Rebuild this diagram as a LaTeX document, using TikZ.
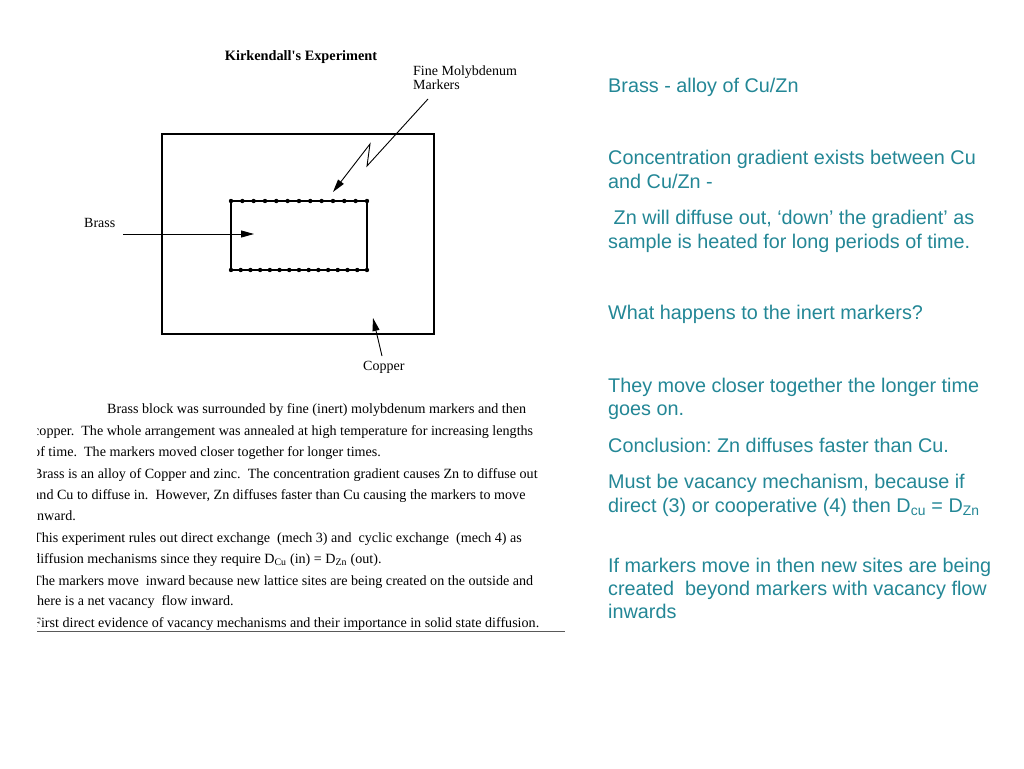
\documentclass[tikz,border=0pt]{standalone}
\usepackage{fontspec}
\setmainfont{Liberation Serif}
\newfontfamily\arialfont{Liberation Sans}
\usepackage{xcolor}
\usetikzlibrary{arrows.meta}
\definecolor{slideteal}{RGB}{35,135,150}
\frenchspacing

\begin{document}
\begin{tikzpicture}[x=1pt, y=-1pt,
  arr/.style={line width=0.9pt, -{Stealth[length=13pt,width=7pt,inset=0pt]}},
  lbl/.style={anchor=base west, inner sep=0pt, font=\fontsize{14}{15}\selectfont},
  ptext/.style={anchor=base west, inner sep=0pt, font=\fontsize{14.1}{16}\selectfont},
  rtext/.style={anchor=base west, inner sep=0pt, text=slideteal, font=\arialfont\fontsize{19.8}{24}\selectfont}]
  \useasboundingbox[fill=white] (0,0) rectangle (1024,768);

  % the sample
  \node[anchor=base, inner sep=0pt, font=\bfseries\fontsize{14.3}{16}\selectfont] (title) at (301,60) {Kirkendall\textquotesingle s Experiment};
  \draw[line width=1.4pt] (162,134) rectangle (434,334);
  \draw[line width=1.4pt] (367,201) -- (231,201) -- (231,270) -- (367,270);
  \draw[line width=2pt] (367,200) -- (367,271);
  \foreach \i in {0,...,12} \fill (231+\i*11.33,201) circle (2.2pt);
  \foreach \i in {0,...,14} \fill (231+\i*9.71,270) circle (2.2pt);

  % labels and arrows
  \node[lbl] (fine) at (413,75) {Fine Molybdenum};
  \node[lbl] (markers) at (413,89) {Markers};
  \coordinate (molyTail) at (428,99);
  \coordinate (molyTip) at (333,192);
  \draw[arr] (molyTail) -- (367,166) -- (370,144) -- (molyTip);
  \node[lbl] (brass) at (84,227) {Brass};
  \coordinate (brassTail) at (123,234);
  \coordinate (brassTip) at (254,234);
  \draw[arr] (brassTail) -- (brassTip);
  \node[lbl] (copper) at (363,370) {Copper};
  \coordinate (copperTail) at (382,356);
  \coordinate (copperTip) at (373,318);
  \draw[arr] (copperTail) -- (copperTip);

  % caption under the sample
  \begin{scope}
    \clip (37,395) rectangle (600,640);
    \node[ptext] (p1) at (107,413) {Brass block was surrounded by fine (inert) molybdenum markers and then};
    \node[ptext] (p2) at (33,435) {copper.\ \ The whole arrangement was annealed at high temperature for increasing lengths};
    \node[ptext] (p3) at (33,456) {of time.\ \ The markers moved closer together for longer times.};
    \node[ptext] (p4) at (33,478) {Brass is an alloy of Copper and zinc.\ \ The concentration gradient causes Zn to diffuse out};
    \node[ptext] (p5) at (33,499) {and Cu to diffuse in.\ \ However, Zn diffuses faster than Cu causing the markers to move};
    \node[ptext] (p6) at (33,520) {inward.};
    \node[ptext] (p7) at (33,542) {This experiment rules out direct exchange\ \ (mech 3) and\ \ cyclic exchange\ \ (mech 4) as};
    \node[ptext] (p8) at (33,563) {diffusion mechanisms since they require D\textsubscript{Cu} (in) = D\textsubscript{Zn} (out).};
    \node[ptext] (p9) at (33,585) {The markers move\ \ inward because new lattice sites are being created on the outside and};
    \node[ptext] (p10) at (33,605) {there is a net vacancy\ \ flow inward.};
    \node[ptext] (p11) at (33,627) {First direct evidence of vacancy mechanisms and their importance in solid state diffusion.};
  \end{scope}
  \draw[gray!70!black, line width=1pt] (37,631) -- (565,631);

  % notes on the right
  \node[rtext] (n1) at (608,92) {Brass - alloy of Cu/Zn};
  \node[rtext] (n2) at (608,164) {Concentration gradient exists between Cu};
  \node[rtext] (n3) at (608,188) {and Cu/Zn -};
  \node[rtext] (n4) at (608,224) {\ Zn will diffuse out, ‘down’ the gradient’ as};
  \node[rtext] (n5) at (608,248) {sample is heated for long periods of time.};
  \node[rtext] (n6) at (608,319) {What happens to the inert markers?};
  \node[rtext] (n7) at (608,392) {They move closer together the longer time};
  \node[rtext] (n8) at (608,415) {goes on.};
  \node[rtext] (n9) at (608,452) {Conclusion: Zn diffuses faster than Cu.};
  \node[rtext] (n10) at (608,488) {Must be vacancy mechanism, because if};
  \node[rtext] (n11) at (608,512) {direct (3) or cooperative (4) then D\textsubscript{cu} = D\textsubscript{Zn}};
  \node[rtext] (n12) at (608,572) {If markers move in then new sites are being};
  \node[rtext] (n13) at (608,595) {created\ \ beyond markers with vacancy flow};
  \node[rtext] (n14) at (608,618) {inwards};
\end{tikzpicture}
\end{document}
